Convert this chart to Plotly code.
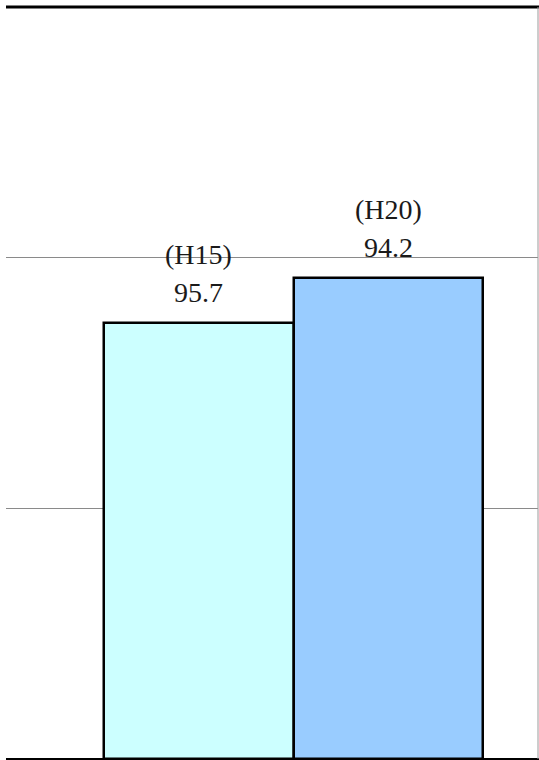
import plotly.graph_objects as go

categories = ["H15", "H20"]
bar_heights = [86.9, 95.9]
period_labels = ["(H15)", "(H20)"]
value_labels = ["95.7", "94.2"]
bar_colors = ["#CCFFFF", "#99CCFF"]

fig = go.Figure()
fig.add_trace(go.Bar(
    x=categories,
    y=bar_heights,
    marker=dict(color=bar_colors, line=dict(color="black", width=2.5)),
    width=1,
    hoverinfo="skip",
))

font = dict(family="Liberation Serif, DejaVu Serif, serif", size=28, color="#1a1a1a")
for c, h, pl, vl in zip(categories, bar_heights, period_labels, value_labels):
    fig.add_annotation(x=c, y=h, text=pl, showarrow=False, yanchor="middle",
                       yshift=68.5, font=font)
    fig.add_annotation(x=c, y=h, text=vl, showarrow=False, yanchor="middle",
                       yshift=30.5, font=font)

fig.update_layout(
    width=539, height=760,
    margin=dict(l=6, r=1, t=7, b=1),
    paper_bgcolor="white", plot_bgcolor="white",
    showlegend=False,
    bargap=0,
    xaxis=dict(range=[-1.017, 1.79], showticklabels=False, ticks="",
               showgrid=False, zeroline=False, showline=False, fixedrange=True),
    yaxis=dict(range=[0, 150], dtick=50, showticklabels=False, ticks="",
               showgrid=True, gridcolor="#8a8a8a", gridwidth=1,
               zeroline=False, showline=False, fixedrange=True),
    shapes=[
        dict(type="line", xref="paper", yref="paper", x0=0, x1=1.003, y0=1.0, y1=1.0,
             line=dict(color="black", width=3), layer="above"),
        dict(type="line", xref="paper", yref="paper", x0=0, x1=1.003, y0=0.0, y1=0.0,
             line=dict(color="black", width=2), layer="above"),
        dict(type="line", xref="paper", yref="paper", x0=1, x1=1, y0=0, y1=1,
             line=dict(color="#9a9a9a", width=1), layer="above"),
    ],
)

fig.write_html(
    "out.html",
    config={"displayModeBar": False},
    post_script="document.body.style.margin='0';document.body.style.overflow='hidden';",
)
